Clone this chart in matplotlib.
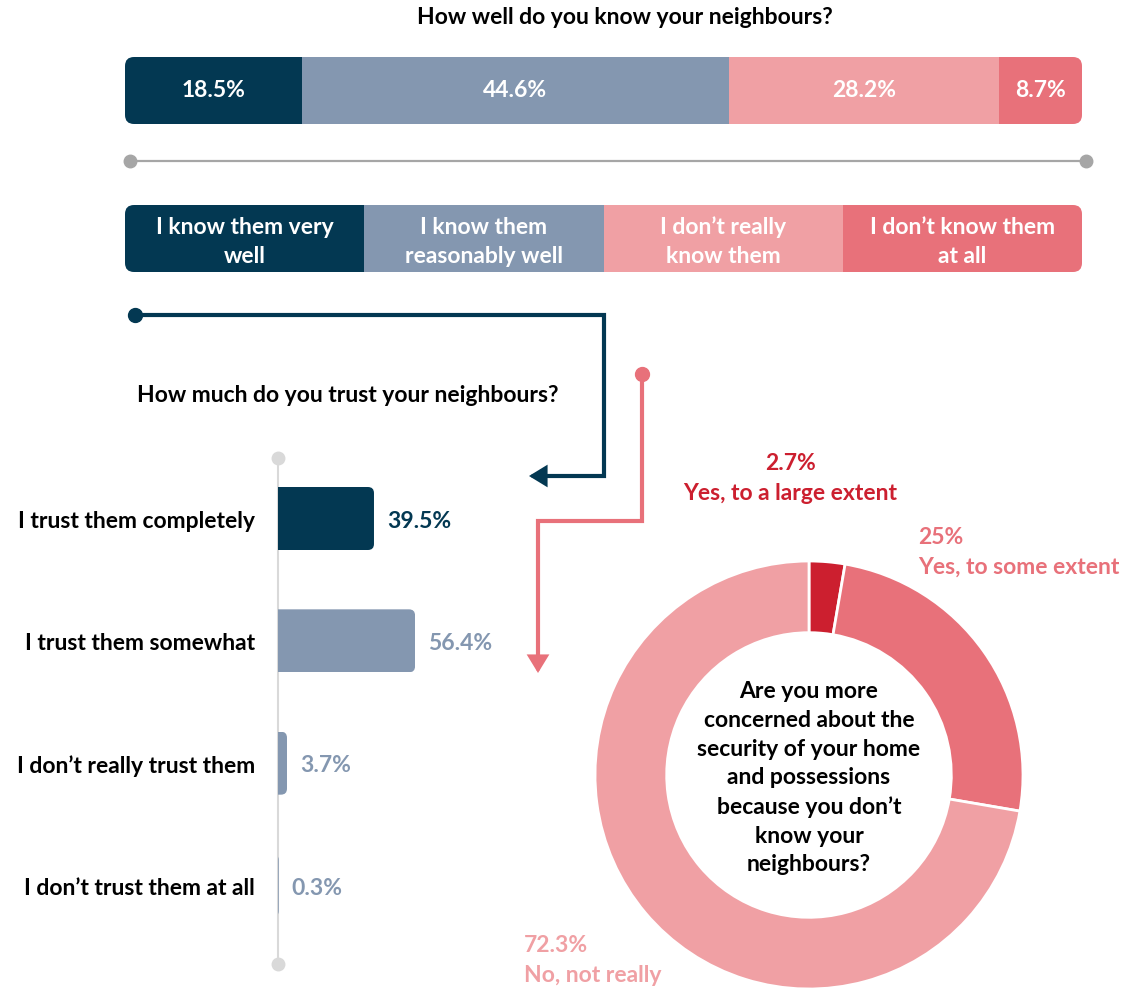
import numpy as np
import matplotlib
matplotlib.use("Agg")
import matplotlib.pyplot as plt
from matplotlib.patches import FancyBboxPatch, FancyArrowPatch, ArrowStyle
from matplotlib.lines import Line2D
from matplotlib.path import Path

plt.rcParams['font.family'] = ['Lato', 'DejaVu Sans']
plt.rcParams['font.weight'] = 'bold'

# --- data ---
know_labels = ['I know them very\nwell', 'I know them\nreasonably well',
               'I don’t really\nknow them', 'I don’t know them\nat all']
know_values = [18.5, 44.6, 28.2, 8.7]

trust_labels = ['I trust them completely', 'I trust them somewhat',
                'I don’t really trust them', 'I don’t trust them at all']
trust_values = [39.5, 56.4, 3.7, 0.3]

concern_labels = ['Yes, to a large extent', 'Yes, to some extent', 'No, not really']
concern_values = [2.7, 25, 72.3]
concern_text = ['2.7%', '25%', '72.3%']

# --- colours ---
NAVY = '#033852'
GREYBLUE = '#8497B0'
PINK_L = '#F0A0A4'
PINK_M = '#E8717A'
RED = '#CC1F2F'
know_colors = [NAVY, GREYBLUE, PINK_L, PINK_M]
trust_colors = [NAVY, GREYBLUE, GREYBLUE, GREYBLUE]
concern_colors = [RED, PINK_M, PINK_L]

W, H = 1131, 990
fig = plt.figure(figsize=(W / 100, H / 100), dpi=100)


def box(x0, y0, x1, y1):
    # pixel box, origin top-left -> figure fraction rect
    return [x0 / W, 1 - y1 / H, (x1 - x0) / W, (y1 - y0) / H]


def pt(x, y):
    return x / W, 1 - y / H


def rounded(x0, y0, x1, y1, r=0.09):
    return FancyBboxPatch((x0 / 100, (H - y1) / 100), (x1 - x0) / 100, (y1 - y0) / 100,
                          boxstyle=f'round,pad=0,rounding_size={r}',
                          transform=fig.dpi_scale_trans, fc='none', ec='none')


FS = 16.5

# title
fig.text(*pt(625, 18), 'How well do you know your neighbours?', ha='center', va='center', fontsize=FS)

# stacked bar
ax1 = fig.add_axes(box(125, 57, 1082, 124))
lefts = np.cumsum([0] + know_values[:-1])
bars = ax1.barh(0, know_values, left=lefts, height=1, color=know_colors)
ax1.set_xlim(0, sum(know_values))
ax1.set_ylim(-0.5, 0.5)
ax1.axis('off')
clip1 = rounded(125, 57, 1082, 124)
for b, v in zip(bars, know_values):
    b.set_clip_path(clip1)
    ax1.text(b.get_x() + b.get_width() / 2, 0, f'{v}%', ha='center', va='center',
             color='white', fontsize=FS)

# grey scale line
fig.add_artist(Line2D([130 / W, 1086 / W], [1 - 161 / H] * 2, color='#A6A6A6', lw=1.6,
                      marker='o', markersize=9))

# legend bar
ax2 = fig.add_axes(box(125, 205, 1082, 272))
bars2 = ax2.barh(0, [1] * len(know_labels), left=np.arange(len(know_labels)), height=1,
                 color=know_colors)
ax2.set_xlim(0, len(know_labels))
ax2.set_ylim(-0.5, 0.5)
ax2.axis('off')
clip2 = rounded(125, 205, 1082, 272)
for i, (b, lab) in enumerate(zip(bars2, know_labels)):
    b.set_clip_path(clip2)
    ax2.text(i + 0.5, -0.05, lab, ha='center', va='center', color='white', fontsize=FS,
             linespacing=1.5)

# connectors
style = ArrowStyle('-|>', head_length=0.9, head_width=0.55)
navy_path = Path([pt(135, 315), pt(604, 315), pt(604, 476), pt(529, 476)])
fig.add_artist(FancyArrowPatch(path=navy_path, arrowstyle=style, mutation_scale=10,
                               color=NAVY, lw=3, transform=fig.transFigure,
                               shrinkA=0, shrinkB=0, joinstyle='miter'))
fig.add_artist(Line2D([135 / W], [1 - 315 / H], marker='o', markersize=10, color=NAVY))
pink_path = Path([pt(642, 374), pt(642, 521), pt(538, 521), pt(538, 673)])
fig.add_artist(FancyArrowPatch(path=pink_path, arrowstyle=style, mutation_scale=10,
                               color=PINK_M, lw=3, transform=fig.transFigure,
                               shrinkA=0, shrinkB=0, joinstyle='miter'))
fig.add_artist(Line2D([642 / W], [1 - 374 / H], marker='o', markersize=10, color=PINK_M))

# trust bars
fig.text(*pt(348, 395), 'How much do you trust your neighbours?', ha='center', va='center',
         fontsize=FS)
ax3 = fig.add_axes(box(278, 458, 521, 964))
ypos = np.arange(len(trust_values))
bars3 = ax3.barh(ypos, trust_values, height=0.515, color=trust_colors, zorder=2)
ax3.set_xlim(0, 100)
ax3.set_ylim(3.6417, -0.4946)
ax3.axis('off')
m = 2.43 / 122.33
for b in bars3:
    c = FancyBboxPatch((b.get_x() - 10, b.get_y()), b.get_width() + 10, b.get_height(),
                       boxstyle='round,pad=0,rounding_size=2.5', mutation_aspect=m,
                       transform=ax3.transData, fc='none', ec='none')
    b.set_clip_path(c)
ax3.plot([0, 0], [-0.4946, 3.6417], color='#D9D9D9', lw=1.5, marker='o', markersize=9,
         clip_on=False, zorder=1)
for y, lab, v, col in zip(ypos, trust_labels, trust_values, trust_colors):
    ax3.annotate(lab, (0, y), xytext=(-23 * 0.72, -2), textcoords='offset points',
                 ha='right', va='center', fontsize=FS, color='black', annotation_clip=False)
    ax3.annotate(f'{v}%', (v, y), xytext=(13 * 0.72, -2), textcoords='offset points',
                 ha='left', va='center', fontsize=FS, color=col, annotation_clip=False)

# donut
ax4 = fig.add_axes(box(595, 561, 1023, 989))
ax4.pie(concern_values, colors=concern_colors, startangle=90, counterclock=False, radius=1,
        wedgeprops=dict(width=0.335, edgecolor='white', linewidth=2))
ax4.set_xlim(-1, 1)
ax4.set_ylim(-1, 1)
ax4.text(0, -0.015, 'Are you more\nconcerned about the\nsecurity of your home\nand possessions\n'
         'because you don’t\nknow your\nneighbours?', ha='center', va='center', fontsize=FS,
         linespacing=1.45)

label_pos = [(790, 463, 'center'), (918, 537, 'left'), (524, 946, 'left')]
for (x, y, ha), pct, lab, col in zip(label_pos, concern_text, concern_labels, concern_colors):
    fig.text(*pt(x, y), pct, ha=ha, va='center', fontsize=FS, color=col)
    fig.text(*pt(x, y + 30), lab, ha=ha, va='center', fontsize=FS, color=col)

fig.savefig('out.png', dpi=100)
